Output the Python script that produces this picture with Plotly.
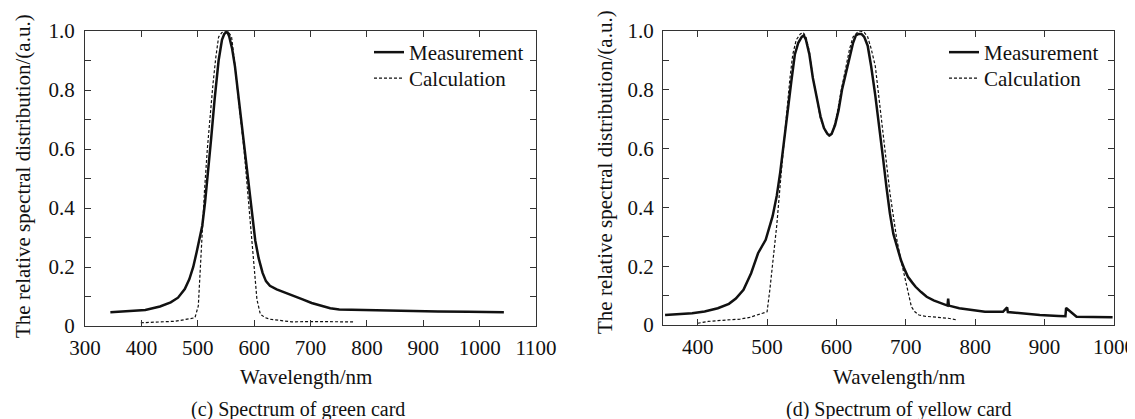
import plotly.graph_objects as go

# ---------------- data ----------------
# (c) green card
green_meas_x = [345, 370, 407, 433, 452, 465, 477, 485, 492, 498, 503, 508, 513, 517, 524, 530, 537, 543, 547,
                550, 553, 556, 561, 566, 572, 579, 586, 592, 597, 602, 608, 615, 621, 628, 640, 654, 670, 686, 702,
                718, 735, 751, 770, 796, 830, 861, 900, 926, 980, 1043]
green_meas_y = [0.047, 0.049, 0.054, 0.066, 0.080, 0.096, 0.125, 0.158, 0.200, 0.250, 0.295, 0.340, 0.420, 0.510,
                0.640, 0.770, 0.900, 0.970, 0.990, 0.995, 0.995, 0.980, 0.940, 0.880, 0.780, 0.655, 0.550, 0.450,
                0.370, 0.290, 0.230, 0.180, 0.152, 0.136, 0.124, 0.113, 0.100, 0.090, 0.078, 0.068, 0.060, 0.056,
                0.055, 0.056, 0.053, 0.051, 0.050, 0.049, 0.048, 0.047]
green_calc_x = [399, 420, 440, 460, 472, 485, 495, 501, 504, 508, 512, 517, 522, 527, 532, 537, 543, 550, 555, 560,
                565, 569, 575, 582, 588, 595, 600, 605, 611, 620, 628, 645, 667, 700, 740, 777]
green_calc_y = [0.011, 0.012, 0.014, 0.016, 0.020, 0.024, 0.028, 0.068, 0.180, 0.320, 0.460, 0.600, 0.720, 0.820,
                0.910, 0.980, 0.995, 1.000, 0.995, 0.980, 0.900, 0.820, 0.720, 0.600, 0.460, 0.320, 0.200, 0.090,
                0.040, 0.028, 0.023, 0.018, 0.014, 0.015, 0.014, 0.014]

# (d) yellow card
yellow_meas_x = [353, 370, 392, 410, 429, 445, 455, 466, 472, 477, 487, 498, 508, 514, 519, 524, 529, 535, 540,
                 545, 550, 553, 556, 561, 566, 572, 577, 582, 587, 590, 593, 598, 603, 608, 614, 619, 624, 628, 632,
                 636, 640, 645, 650, 656, 661, 667, 672, 677, 682, 688, 693, 698, 703, 709, 714, 722, 730, 740,
                 751, 760, 761, 762, 777, 795, 814, 840, 846, 847, 870, 893, 920, 930, 931, 946, 970, 998]
yellow_meas_y = [0.034, 0.036, 0.040, 0.046, 0.057, 0.072, 0.090, 0.120, 0.150, 0.176, 0.244, 0.290, 0.370,
                 0.440, 0.520, 0.620, 0.730, 0.830, 0.920, 0.960, 0.980, 0.985, 0.970, 0.920, 0.840, 0.770, 0.710,
                 0.670, 0.650, 0.645, 0.650, 0.680, 0.730, 0.800, 0.860, 0.920, 0.960, 0.985, 0.990, 0.990, 0.980,
                 0.950, 0.880, 0.780, 0.675, 0.570, 0.470, 0.380, 0.310, 0.260, 0.220, 0.190, 0.164, 0.145, 0.130,
                 0.112, 0.096, 0.084, 0.074, 0.066, 0.090, 0.066, 0.057, 0.050, 0.045, 0.045, 0.060, 0.044, 0.038,
                 0.034, 0.031, 0.030, 0.058, 0.028, 0.027, 0.026]
yellow_calc_x = [400, 415, 429, 445, 461, 475, 487, 495, 500, 504, 508, 514, 519, 524, 529, 533, 537, 542, 548,
                 552, 556, 561, 566, 572, 577, 584, 590, 595, 601, 607, 614, 619, 624, 630, 635, 640, 645, 650,
                 656, 661, 666, 671, 677, 682, 687, 693, 698, 703, 708, 713, 719, 727, 735, 748, 761, 774]
yellow_calc_y = [0.006, 0.012, 0.015, 0.018, 0.020, 0.026, 0.034, 0.040, 0.045, 0.120, 0.200, 0.340, 0.480, 0.620,
                 0.740, 0.840, 0.920, 0.970, 0.990, 0.995, 0.980, 0.930, 0.840, 0.770, 0.700, 0.660, 0.640, 0.660,
                 0.720, 0.800, 0.880, 0.940, 0.980, 0.995, 1.000, 0.995, 0.980, 0.940, 0.880, 0.780, 0.675, 0.560,
                 0.450, 0.370, 0.290, 0.220, 0.164, 0.110, 0.062, 0.045, 0.034, 0.030, 0.028, 0.026, 0.023, 0.017]

y_tick_vals = [0, 0.2, 0.4, 0.6, 0.8, 1.0]
y_tick_text = ["0", "0.2", "0.4", "0.6", "0.8", "1.0"]
green_x_ticks = [300, 400, 500, 600, 700, 800, 900, 1000, 1100]
yellow_x_ticks = [400, 500, 600, 700, 800, 900, 1000]

series_names = ["Measurement", "Calculation"]
captions = ["(c) Spectrum of green card", "(d) Spectrum of yellow card"]
x_title = "Wavelength/nm"
y_title = "The relative spectral distribution/(a.u.)"

# ---------------- figure ----------------
PAGE_OFF = 8                     # default body margin of the html page
W, H = 1135 - PAGE_OFF, 419 - PAGE_OFF
FONT = "Liberation Serif"
FS = 21
fig = go.Figure()

meas_line = dict(color="#111111", width=2.5)
calc_line = dict(color="#111111", width=1.2, dash="3px,2px")

fig.add_trace(go.Scatter(x=green_meas_x, y=green_meas_y, mode="lines", name=series_names[0],
                         line=meas_line, xaxis="x", yaxis="y", legend="legend", showlegend=True))
fig.add_trace(go.Scatter(x=green_calc_x, y=green_calc_y, mode="lines", name=series_names[1],
                         line=calc_line, xaxis="x", yaxis="y", legend="legend2", showlegend=True))
fig.add_trace(go.Scatter(x=yellow_meas_x, y=yellow_meas_y, mode="lines", name=series_names[0],
                         line=meas_line, xaxis="x2", yaxis="y2", legend="legend3", showlegend=True))
fig.add_trace(go.Scatter(x=yellow_calc_x, y=yellow_calc_y, mode="lines", name=series_names[1],
                         line=calc_line, xaxis="x2", yaxis="y2", legend="legend4", showlegend=True))

def px_x(p):
    return (p - PAGE_OFF) / W

def px_y(p):
    return 1 - (p - PAGE_OFF) / H

axis_common = dict(showline=True, linecolor="#333333", linewidth=1, mirror="ticks", ticks="inside",
                   ticklen=6, tickcolor="#333333", showgrid=False, zeroline=False, automargin=False,
                   tickfont=dict(family=FONT, size=FS, color="#111111"))
minor_y = dict(ticks="inside", dtick=0.1, ticklen=6, tickcolor="#333333")

def legend_box(xp, yp):
    return dict(x=px_x(xp), y=px_y(yp), xanchor="left", yanchor="top", bgcolor="rgba(0,0,0,0)",
                font=dict(family=FONT, size=FS, color="#111111"), itemwidth=30, visible=True)

fig.update_layout(
    width=W, height=H,
    margin=dict(l=0, r=0, t=0, b=0, pad=0),
    paper_bgcolor="white", plot_bgcolor="white",
    showlegend=True,
    font=dict(family=FONT, size=FS, color="#111111"),
    xaxis=dict(domain=[px_x(85), px_x(536)], range=[300, 1100], tickvals=green_x_ticks,
               anchor="y", ticklabelstandoff=3, **axis_common),
    yaxis=dict(domain=[px_y(326), px_y(31)], range=[0, 1.0], tickvals=y_tick_vals, ticktext=y_tick_text,
               anchor="x", ticklabelstandoff=5, minor=minor_y, **axis_common),
    xaxis2=dict(domain=[px_x(663), px_x(1114)], range=[350, 1000], tickvals=yellow_x_ticks,
                anchor="y2", ticklabelstandoff=3, **axis_common),
    yaxis2=dict(domain=[px_y(325), px_y(31)], range=[0, 1.0], tickvals=y_tick_vals, ticktext=y_tick_text,
                anchor="x2", ticklabelstandoff=4, minor=minor_y, **axis_common),
    legend=legend_box(369, 32),
    legend2=legend_box(369, 58),
    legend3=legend_box(944, 32),
    legend4=legend_box(944, 58),
)

annos = [
    dict(text=x_title, x=px_x(306), y=px_y(377)),
    dict(text=x_title, x=px_x(899), y=px_y(377)),
    dict(text=captions[0], x=px_x(298), y=px_y(409), size=20),
    dict(text=captions[1], x=px_x(898), y=px_y(409), size=20),
    dict(text=y_title, x=px_x(23), y=px_y(176), angle=-90),
    dict(text=y_title, x=px_x(605), y=px_y(172), angle=-90),
]
for a in annos:
    fig.add_annotation(text=a["text"], x=a["x"], y=a["y"], xref="paper", yref="paper",
                       xanchor="center", yanchor="middle", showarrow=False,
                       textangle=a.get("angle", 0),
                       font=dict(family=FONT, size=a.get("size", FS), color="#111111"))

fig.write_html("out.html")
